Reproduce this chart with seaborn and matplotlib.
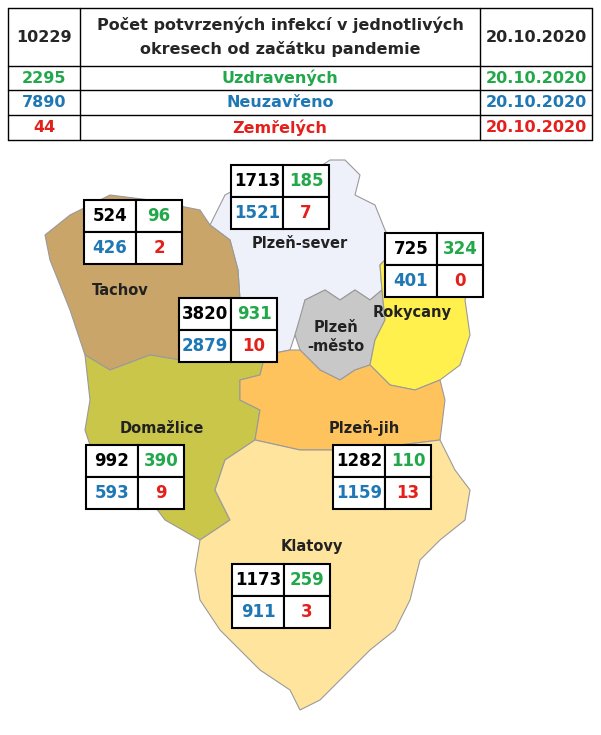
import matplotlib
matplotlib.use("Agg")
import matplotlib.pyplot as plt
from matplotlib.patches import Polygon, Rectangle
import seaborn as sns

sns.set_style("white")
plt.rcParams['font.family'] = ['DejaVu Sans']

GREEN = "#22A84A"
BLUE = "#1F77B4"
RED = "#E3201B"

# header table
total = "10229"
title_lines = ["Počet potvrzených infekcí v jednotlivých", "okresech od začátku pandemie"]
date = "20.10.2020"
summary_values = ["2295", "7890", "44"]
summary_labels = ["Uzdravených", "Neuzavřeno", "Zemřelých"]
summary_colors = [GREEN, BLUE, RED]

# districts: confirmed, recovered, active, dead
districts = ["Tachov", "Plzeň-sever", "Rokycany", "Plzeň-město", "Domažlice", "Plzeň-jih", "Klatovy"]
confirmed = [524, 1713, 725, 3820, 992, 1282, 1173]
recovered = [96, 185, 324, 931, 390, 110, 259]
active = [426, 1521, 401, 2879, 593, 1159, 911]
dead = [2, 7, 0, 10, 9, 13, 3]

# map outlines (pixel coordinates)
shapes = {
    "Plzeň-sever": [(210,225),(225,195),(262,175),(300,180),(330,160),(345,160),(360,175),(355,195),(375,205),(385,230),(395,250),(380,265),(382,290),(370,300),(355,290),(340,300),(325,290),(305,300),(300,320),(295,335),(290,350),(265,355),(255,330),(240,300),(238,270),(230,240)],
    "Tachov": [(70,215),(110,195),(150,200),(200,210),(210,225),(230,240),(238,270),(240,300),(255,330),(230,340),(205,340),(180,360),(150,355),(110,370),(85,355),(70,310),(50,260),(45,235)],
    "Plzeň-město": [(305,300),(325,290),(340,300),(355,290),(370,300),(382,290),(385,320),(375,340),(370,365),(355,370),(340,380),(320,370),(300,350),(295,335)],
    "Rokycany": [(382,290),(380,265),(395,250),(420,245),(450,240),(475,250),(470,280),(465,300),(470,335),(460,365),(440,380),(415,390),(390,385),(370,365),(375,340),(385,320)],
    "Domažlice": [(85,355),(110,370),(150,355),(180,360),(205,340),(230,340),(255,330),(265,355),(260,375),(240,380),(240,400),(260,410),(255,440),(225,460),(215,490),(230,520),(200,540),(165,520),(150,500),(125,490),(95,460),(85,430),(90,400)],
    "Plzeň-jih": [(265,355),(290,350),(300,350),(320,370),(340,380),(355,370),(370,365),(390,385),(415,390),(440,380),(445,400),(440,440),(400,445),(350,450),(300,450),(255,440),(260,410),(240,400),(240,380),(260,375)],
    "Klatovy": [(255,440),(300,450),(350,450),(400,445),(440,440),(455,470),(470,490),(465,520),(440,540),(420,560),(410,600),(395,630),(370,650),(340,680),(320,700),(300,710),(290,690),(260,670),(240,650),(220,630),(200,600),(195,570),(200,540),(230,520),(215,490),(225,460)],
}
fills = {"Plzeň-sever": "#EEF0FA", "Tachov": "#C9A56A", "Plzeň-město": "#C8C8C8", "Rokycany": "#FFF04E",
         "Domažlice": "#C9C64A", "Plzeň-jih": "#FFC35E", "Klatovy": "#FFE49E"}
label_pos = {"Tachov": (120, 290), "Plzeň-sever": (300, 243), "Plzeň-město": (336, 337), "Rokycany": (412, 312),
             "Domažlice": (162, 428), "Plzeň-jih": (364, 428), "Klatovy": (312, 546)}
box_pos = {"Tachov": (84, 200), "Plzeň-sever": (231, 165), "Rokycany": (385, 233), "Plzeň-město": (179, 298),
           "Domažlice": (86, 445), "Plzeň-jih": (333, 445), "Klatovy": (232, 564)}

fig = plt.figure(figsize=(6.01, 7.35), dpi=100)
ax = fig.add_axes([0, 0, 1, 1])
ax.set_xlim(0, 601)
ax.set_ylim(735, 0)
ax.axis("off")

# header table
x0, x1, x2, x3 = 8, 80, 480, 592
ys = [8, 66, 90, 115, 140]
for y in ys:
    ax.plot([x0, x3], [y, y], color="black", lw=1)
for x in [x0, x1, x2, x3]:
    ax.plot([x, x], [ys[0], ys[-1]], color="black", lw=1)
ax.text((x0+x1)/2, 37, total, ha="center", va="center", fontsize=11.5, fontweight="bold")
ax.text((x1+x2)/2, 37, "\n".join(title_lines), ha="center", va="center", fontsize=11.5,
        fontweight="bold", linespacing=1.6)
ax.text((x2+x3)/2, 37, date, ha="center", va="center", fontsize=11.5, fontweight="bold")
for i in range(3):
    yc = (ys[i+1] + ys[i+2]) / 2
    c = summary_colors[i]
    ax.text((x0+x1)/2, yc, summary_values[i], ha="center", va="center", fontsize=11.5, fontweight="bold", color=c)
    ax.text((x1+x2)/2, yc, summary_labels[i], ha="center", va="center", fontsize=11.5, fontweight="bold", color=c)
    ax.text((x2+x3)/2, yc, date, ha="center", va="center", fontsize=11.5, fontweight="bold", color=c)

# map
for name, pts in shapes.items():
    ax.add_patch(Polygon(pts, closed=True, facecolor=fills[name], edgecolor="#9A9A9A", lw=0.8))

for name, (lx, ly) in label_pos.items():
    txt = "Plzeň\n-město" if name == "Plzeň-město" else name
    ax.text(lx, ly, txt, ha="center", va="center", fontsize=10.5, fontweight="bold", color="#222222",
            linespacing=1.3)

# value boxes
for i, name in enumerate(districts):
    bx, by = box_pos[name]
    w1, w2, h = 52, 46, 32
    cells = [(bx, by, w1, confirmed[i], "black"), (bx+w1, by, w2, recovered[i], GREEN),
             (bx, by+h, w1, active[i], BLUE), (bx+w1, by+h, w2, dead[i], RED)]
    for cx, cy, cw, val, col in cells:
        ax.add_patch(Rectangle((cx, cy), cw, h, facecolor="white", edgecolor="black", lw=1.5))
        ax.text(cx + cw/2, cy + h/2, str(val), ha="center", va="center", fontsize=12,
                fontweight="bold", color=col)

fig.savefig("out.png", dpi=100)
